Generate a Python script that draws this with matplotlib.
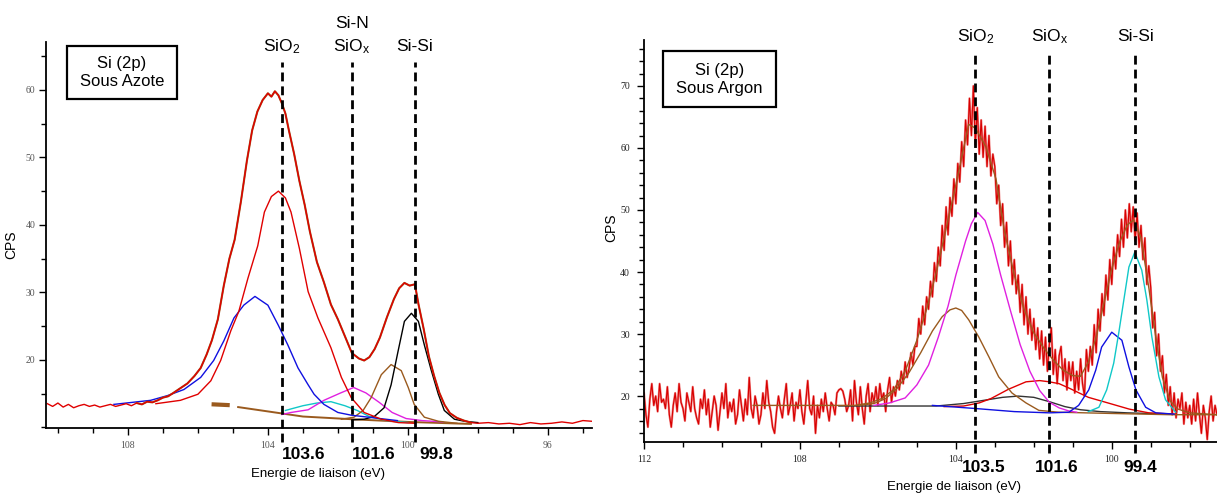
"""Si 2p XPS spectra, fitted components: under nitrogen (left) and under argon (right)."""
import numpy as np
import matplotlib
matplotlib.use("Agg")
import matplotlib.pyplot as plt
from matplotlib.patches import Rectangle
from matplotlib.ticker import MultipleLocator, FixedLocator

plt.rcParams["font.family"] = ["Liberation Sans", "DejaVu Sans"]
plt.rcParams["mathtext.default"] = "regular"

# ---------------- left panel : sous azote (eV, CPS) ----------------
N2_ENV_X = [110.3, 110.15, 110.0, 109.85, 109.7, 109.55, 109.4, 109.25, 109.1, 108.95,
            108.8, 108.65, 108.5, 108.35, 108.2, 108.05, 107.9, 107.75, 107.6, 107.45,
            107.3, 107.15, 107.0, 106.85, 106.7, 106.5, 106.3, 106.1, 105.92, 105.75,
            105.6, 105.43, 105.26, 105.1, 104.95, 104.77, 104.6, 104.45, 104.3, 104.15,
            104.0, 103.9, 103.8, 103.7, 103.6, 103.5, 103.4, 103.25, 103.1, 102.95,
            102.8, 102.6, 102.4, 102.2, 102.0, 101.8, 101.6, 101.4, 101.25, 101.1,
            100.95, 100.8, 100.6, 100.4, 100.25, 100.1, 99.95, 99.8, 99.7, 99.55,
            99.4, 99.25, 99.1, 98.95, 98.8, 98.6, 98.4, 98.2, 98.0, 97.7,
            97.4, 97.1, 96.8, 96.5, 96.2, 95.9, 95.6, 95.3, 95.0, 94.75]
N2_ENV_Y = [13.5, 13.1, 13.6, 13.0, 13.4, 12.9, 13.2, 13.4, 13.1, 13.3,
            13.0, 13.2, 13.4, 13.1, 13.3, 13.5, 13.2, 13.6, 13.4, 13.8,
            13.7, 14.0, 14.4, 14.6, 15.1, 15.8, 16.5, 17.6, 18.8, 20.8,
            22.9, 26.0, 31.0, 35.0, 37.8, 43.5, 49.5, 54.0, 56.8, 58.5,
            59.5, 59.0, 59.8, 59.2, 58.0, 56.5, 54.0, 50.5, 46.5, 43.0,
            39.0, 34.5, 31.5, 28.2, 26.0, 23.5, 21.0, 20.2, 19.9, 20.4,
            21.6, 23.3, 26.3, 29.0, 30.6, 31.4, 31.0, 31.2, 28.3, 24.6,
            20.5, 17.6, 15.1, 13.3, 12.1, 11.4, 11.0, 10.7, 10.6, 10.7,
            10.5, 10.6, 10.4, 10.7, 10.5, 10.6, 10.8, 10.6, 11.0, 10.9]

N2_RED_X = [107.2, 106.5, 106.0, 105.63, 105.35, 105.06, 104.83, 104.57, 104.29, 104.1,
            103.9, 103.7, 103.5, 103.34, 103.1, 102.85, 102.57, 102.2, 101.9, 101.62,
            101.25, 100.76, 100.27, 99.8]
N2_RED_Y = [13.5, 14.0, 14.9, 16.9, 19.9, 24.3, 27.2, 32.1, 36.9, 41.9,
            44.2, 45.0, 44.0, 41.9, 36.5, 30.1, 26.2, 21.8, 17.4, 14.4,
            12.2, 11.2, 10.7, 10.6]

N2_BLUE_X = [108.4, 107.35, 106.87, 106.4, 105.92, 105.55, 105.26, 104.97, 104.69, 104.37,
             104.0, 103.7, 103.43, 103.14, 102.85, 102.68, 102.4, 102.0, 101.62, 101.13, 100.3]
N2_BLUE_Y = [13.4, 14.0, 14.7, 15.6, 17.4, 19.9, 22.8, 26.2, 28.1, 29.4,
             28.1, 25.1, 22.2, 18.8, 16.3, 14.9, 13.4, 12.2, 11.8, 11.5, 11.0]

N2_CYAN_X = [103.5, 103.0, 102.6, 102.2, 101.8, 101.45, 101.1, 100.6, 100.0]
N2_CYAN_Y = [12.5, 13.2, 13.6, 13.8, 13.2, 12.5, 11.6, 11.0, 10.7]

N2_MAG_X = [103.6, 103.34, 102.85, 102.4, 101.92, 101.55, 101.2, 100.82, 100.45, 100.05, 99.6, 99.0]
N2_MAG_Y = [11.9, 12.2, 12.6, 14.0, 15.1, 15.9, 15.1, 13.7, 12.2, 11.3, 11.0, 10.8]

N2_BROWN_X = [101.9, 101.54, 101.28, 101.05, 100.76, 100.48, 100.19, 99.99, 99.82, 99.53, 99.13, 98.6]
N2_BROWN_Y = [11.2, 11.5, 12.5, 14.4, 17.8, 19.3, 18.4, 15.9, 13.4, 11.5, 10.9, 10.6]

N2_BLACK_X = [101.6, 101.25, 100.96, 100.68, 100.48, 100.28, 100.1, 99.9, 99.7, 99.53,
              99.33, 99.13, 98.96, 98.67, 98.38, 98.0]
N2_BLACK_Y = [11.1, 11.2, 11.6, 12.9, 16.3, 21.3, 25.7, 26.9, 25.7, 22.2,
              18.4, 14.9, 12.5, 11.2, 10.9, 10.7]

N2_BG_X = [104.85, 103.0, 101.6, 100.0, 98.2]
N2_BG_Y = [13.0, 11.6, 11.2, 10.8, 10.5]
N2_BG_START_X = [105.55, 105.15]
N2_BG_START_Y = [13.4, 13.3]

N2_PEAKS = [103.6, 101.6, 99.8]
N2_NAMES = ["SiO$_2$", "Si-N\nSiO$_x$", "Si-Si"]
N2_VALUES = ["103.6", "101.6", "99.8"]

# ---------------- right panel : sous argon (eV, CPS) ----------------
AR_RAW_START = 112.0
AR_RAW_STEP = 0.05
AR_RAW_Y = [
    20.5, 17.0, 15.0, 19.5, 22.0, 18.5, 20.0, 17.5, 22.0, 19.0, 19.5, 18.0, 21.5, 17.0, 15.0, 18.5, 20.5, 17.5, 22.0, 19.0,
    18.0, 16.0, 20.5, 19.0, 17.5, 21.5, 18.0, 16.5, 15.5, 19.5, 18.0, 21.0, 17.0, 19.5, 15.0, 17.5, 20.0, 18.5, 14.5, 17.5,
    20.5, 18.0, 22.0, 16.5, 19.0, 17.5, 19.5, 15.5, 17.0, 21.0, 18.5, 16.0, 19.5, 17.0, 23.0, 18.0, 16.5, 20.0, 18.5, 15.5,
    17.0, 20.5, 18.0, 22.5, 19.0, 17.5, 15.0, 14.0, 17.5, 20.0, 18.0, 16.5, 19.5, 22.0, 17.0, 18.5, 20.5, 16.0, 19.0, 18.0,
    21.0, 17.5, 15.5, 19.0, 22.5, 18.0, 17.0, 20.0, 14.0, 18.5, 16.5, 19.5, 17.5, 20.5, 18.0, 16.0, 19.0, 18.5, 17.0, 20.5,
    21.0, 21.2, 20.8, 19.5, 17.5, 18.5, 21.0, 16.0, 22.5, 19.0, 17.0, 21.5, 18.0, 15.5, 20.0, 22.0, 17.5, 20.5, 19.0, 21.5,
    18.5, 22.0, 19.5, 20.5, 17.5, 21.0, 23.0, 19.0, 21.5, 20.0, 22.5, 21.0, 24.0, 22.0, 25.5, 23.0, 24.5, 27.0, 25.0, 28.0,
    28.0, 32.5, 30.0, 34.5, 31.5, 36.0, 34.0, 38.5, 36.0, 41.5, 38.5, 44.0, 41.0, 47.5, 43.5, 50.5, 46.0, 52.0, 49.0, 55.0,
    51.0, 57.5, 54.5, 61.0, 57.0, 64.5, 60.5, 68.0, 62.0, 70.0, 60.5, 66.5, 59.0, 64.5, 58.5, 63.5, 57.0, 62.0, 55.5, 59.0,
    57.0, 51.0, 54.0, 47.5, 51.0, 44.0, 48.0, 41.0, 45.0, 38.0, 42.0, 36.5, 39.5, 33.5, 38.0, 31.5, 36.0, 30.0, 34.0, 29.0,
    32.5, 27.5, 31.0, 26.0, 30.5, 25.0, 29.5, 24.0, 28.5, 31.0, 23.5, 27.5, 22.0, 26.5, 28.0, 22.5, 26.0, 21.0, 25.5, 22.5,
    25.5, 20.5, 24.0, 21.0, 26.0, 22.0, 20.0, 27.5, 24.0, 28.0, 25.0, 31.5, 27.0, 34.0, 30.5, 36.5, 33.0, 39.5, 35.5, 42.0,
    38.0, 44.0, 40.5, 46.0, 42.5, 48.5, 44.0, 50.0, 45.5, 51.0, 46.5, 50.5, 45.0, 49.5, 44.0, 47.5, 42.0, 45.5, 38.0, 41.0,
    37.5, 31.0, 33.5, 26.5, 30.0, 24.0, 26.5, 20.5, 23.5, 18.5, 21.5, 17.0, 20.5, 16.5, 19.5, 18.0, 20.5, 15.5, 19.0, 16.5,
    18.5, 15.5, 19.5, 16.0, 20.5, 17.0, 14.0, 18.5, 16.5, 13.0, 17.5, 20.0, 16.0, 18.5, 17.0,
]

AR_ENV_X = [109.2, 106.6, 106.2, 105.9, 105.6, 105.3, 105.0, 104.75, 104.5, 104.25,
            104.0, 103.8, 103.67, 103.5, 103.23, 102.97, 102.75, 102.5, 102.25, 102.0,
            101.75, 101.5, 101.25, 101.0, 100.8, 100.6, 100.4, 100.2, 100.0, 99.8,
            99.6, 99.44, 99.25, 99.05, 98.87, 98.7, 98.5, 98.3, 98.0, 97.3]
AR_ENV_Y = [18.5, 18.5, 18.9, 19.6, 21.0, 24.0, 29.0, 34.0, 40.0, 47.0,
            54.0, 60.0, 63.8, 63.2, 60.2, 55.0, 46.5, 39.5, 34.0, 30.2,
            27.8, 25.8, 24.2, 23.3, 23.2, 25.5, 29.5, 35.0, 40.5, 44.8,
            47.6, 48.4, 45.5, 37.5, 29.5, 23.0, 19.2, 17.9, 17.3, 17.0]

AR_MAG_X = [106.1, 105.7, 105.3, 105.0, 104.7, 104.45, 104.2, 104.0, 103.75, 103.6,
            103.44, 103.25, 103.05, 102.85, 102.6, 102.35, 102.1, 101.85, 101.6, 101.35, 101.1, 100.9]
AR_MAG_Y = [18.5, 18.9, 19.7, 21.8, 25.0, 29.5, 34.5, 39.5, 45.0, 47.8,
            49.6, 48.3, 44.5, 39.5, 33.8, 28.3, 24.0, 20.9, 19.0, 18.1, 17.6, 17.4]

AR_BROWN_X = [106.5, 106.1, 105.8, 105.5, 105.2, 104.9, 104.6, 104.35, 104.15, 104.0,
              103.85, 103.67, 103.41, 103.15, 102.9, 102.56, 102.2, 101.87, 101.36, 100.0, 98.5, 97.3]
AR_BROWN_Y = [18.5, 18.8, 19.6, 21.3, 23.8, 27.0, 30.5, 32.8, 33.9, 34.2,
              33.8, 32.3, 29.5, 26.3, 23.1, 20.5, 18.9, 17.7, 17.4, 17.2, 17.0, 17.0]

AR_RED_X = [104.3, 103.8, 103.4, 103.1, 102.65, 102.2, 101.85, 101.6, 101.35, 101.1,
            100.6, 100.1, 99.55, 99.05, 98.4]
AR_RED_Y = [18.3, 18.4, 18.9, 19.6, 21.1, 22.3, 22.5, 22.3, 22.0, 21.3,
            19.8, 18.9, 17.9, 17.3, 17.1]

AR_BLACK_X = [107.0, 105.5, 104.5, 103.8, 103.3, 102.8, 102.4, 102.0, 101.6, 101.2,
              100.8, 100.3, 99.6, 98.5]
AR_BLACK_Y = [18.4, 18.4, 18.4, 18.8, 19.3, 19.8, 20.0, 19.8, 19.1, 18.3,
              17.8, 17.5, 17.3, 17.1]

AR_BLUE_X = [104.6, 103.5, 102.5, 101.6, 101.1, 100.85, 100.59, 100.41, 100.26, 100.0,
             99.74, 99.56, 99.38, 99.13, 98.87, 98.4]
AR_BLUE_Y = [18.5, 18.0, 17.5, 17.3, 17.4, 18.5, 21.0, 24.2, 27.9, 30.3,
             29.0, 24.7, 21.0, 18.2, 17.3, 17.1]

AR_CYAN_X = [100.6, 100.33, 100.13, 99.95, 99.82, 99.69, 99.56, 99.41, 99.23, 99.1,
             98.97, 98.79, 98.62, 98.36]
AR_CYAN_Y = [17.5, 18.2, 21.0, 25.3, 30.2, 35.5, 40.8, 43.2, 40.3, 35.5,
             29.5, 23.1, 19.4, 17.4]

AR_PEAKS = [103.5, 101.6, 99.4]
AR_NAMES = ["SiO$_2$", "SiO$_x$", "Si-Si"]
AR_VALUES = ["103.5", "101.6", "99.4"]

RED = "#e00000"
BROWN = "#9a5a1e"
BLUE = "#1010e0"
CYAN = "#10c8c8"
MAGENTA = "#e020e0"


def style_axes(ax, xlim, ylim, xmajor, ymajor, yminor, label_color):
    ax.set_xlim(*xlim)
    ax.set_ylim(*ylim)
    for s in ("top", "right"):
        ax.spines[s].set_visible(False)
    for s in ("left", "bottom"):
        ax.spines[s].set_linewidth(1.3)
    ax.xaxis.set_major_locator(FixedLocator(xmajor))
    ax.xaxis.set_minor_locator(MultipleLocator(1))
    ax.yaxis.set_major_locator(FixedLocator(ymajor))
    ax.yaxis.set_minor_locator(MultipleLocator(yminor))
    ax.tick_params(which="both", direction="out", width=1.0, colors="black",
                   labelcolor=label_color)
    ax.tick_params(which="major", length=5)
    ax.tick_params(which="minor", length=3.5)
    ax.tick_params(axis="x", pad=4.5)
    ax.tick_params(axis="y", pad=2.5)
    for lab in ax.get_xticklabels() + ax.get_yticklabels():
        lab.set_family(["Liberation Serif", "DejaVu Serif"])
        lab.set_fontsize(7)


def mark_peaks(ax, peaks, names, values, line_span, name_y, value_y,
               value_ha, value_dx):
    for x, name, val, dx in zip(peaks, names, values, value_dx):
        ax.axvline(x, ymin=line_span[0], ymax=line_span[1], color="black",
                   lw=2.0, dashes=(3.2, 1.8), clip_on=False)
        lines = name.split("\n")
        for k, line in enumerate(reversed(lines)):
            ax.annotate(line, (x, name_y), xycoords=("data", "axes fraction"),
                        xytext=(0, 16.5 * k), textcoords="offset points",
                        ha="center", va="baseline", fontsize=12.5,
                        annotation_clip=False)
        ax.annotate(val, (x, value_y), xycoords=("data", "axes fraction"),
                    xytext=(dx, 0), textcoords="offset points",
                    ha=value_ha, va="baseline", fontsize=12.5,
                    fontweight="bold", annotation_clip=False)


def label_box(ax, rect, text):
    ax.add_patch(Rectangle(rect[:2], rect[2], rect[3], transform=ax.transAxes,
                           fill=False, edgecolor="black", lw=1.6, clip_on=False))
    ax.text(rect[0] + rect[2] / 2, rect[1] + rect[3] / 2, text,
            transform=ax.transAxes, ha="center", va="center",
            fontsize=12, linespacing=1.25)


def main():
    fig = plt.figure(figsize=(12.17, 4.98), dpi=100)

    # left: sous azote
    ax1 = fig.add_axes([46 / 1217, 70 / 498, 546 / 1217, 386 / 498])
    ax1.plot(N2_BG_START_X, N2_BG_START_Y, color=BROWN, lw=3.0)
    ax1.plot(N2_BG_X, N2_BG_Y, color=BROWN, lw=1.4)
    ax1.plot(N2_CYAN_X, N2_CYAN_Y, color=CYAN, lw=1.0)
    ax1.plot(N2_MAG_X, N2_MAG_Y, color=MAGENTA, lw=1.0)
    ax1.plot(N2_BROWN_X, N2_BROWN_Y, color=BROWN, lw=1.0)
    ax1.plot(N2_BLACK_X, N2_BLACK_Y, color="black", lw=1.0)
    ax1.plot(N2_BLUE_X, N2_BLUE_Y, color=BLUE, lw=1.0)
    ax1.plot(N2_RED_X, N2_RED_Y, color=RED, lw=1.0)
    env_x = np.array(N2_ENV_X)
    env_y = np.array(N2_ENV_Y)
    fit = (env_x <= 107.8) & (env_x >= 98.2)
    ax1.plot(env_x[fit], env_y[fit], color=BROWN, lw=1.5)
    ax1.plot(env_x, env_y, color=RED, lw=1.0)
    style_axes(ax1, (110.34, 94.74), (9.9, 67.1), [108, 104, 100, 96],
               [20, 30, 40, 50, 60], 5, "#555555")
    mark_peaks(ax1, N2_PEAKS, N2_NAMES, N2_VALUES, (-0.036, 0.948), 0.977,
               -0.080, "left", [0, 0, 3])
    label_box(ax1, (0.0385, 0.852, 0.2015, 0.137), "Si (2p)\nSous Azote")
    ax1.set_xlabel("Energie de liaison (eV)", fontsize=9.5)
    ax1.xaxis.set_label_coords(0.498, -0.104)
    ax1.set_ylabel("CPS", fontsize=10)
    ax1.yaxis.set_label_coords(-0.051, 0.474)

    # right: sous argon
    ax2 = fig.add_axes([644 / 1217, 56 / 498, 573 / 1217, 402 / 498])
    raw_x = AR_RAW_START - AR_RAW_STEP * np.arange(len(AR_RAW_Y))
    ax2.plot(raw_x, AR_RAW_Y, color="#f08080", lw=1.6)
    ax2.plot(raw_x, AR_RAW_Y, color="#d80000", lw=0.8)
    ax2.plot(AR_BLACK_X, AR_BLACK_Y, color="#333333", lw=1.0)
    ax2.plot(AR_RED_X, AR_RED_Y, color=RED, lw=1.0)
    ax2.plot(AR_BROWN_X, AR_BROWN_Y, color=BROWN, lw=1.0)
    ax2.plot(AR_MAG_X, AR_MAG_Y, color=MAGENTA, lw=1.0)
    ax2.plot(AR_BLUE_X, AR_BLUE_Y, color=BLUE, lw=1.0)
    ax2.plot(AR_CYAN_X, AR_CYAN_Y, color=CYAN, lw=1.0)
    ax2.plot(AR_ENV_X, AR_ENV_Y, color=BROWN, lw=1.0)
    style_axes(ax2, (112.0, 97.3), (12.6, 77.4), [112, 108, 104, 100],
               [20, 30, 40, 50, 60, 70], 2, "#222222")
    ax2.tick_params(axis="y", pad=5)
    mark_peaks(ax2, AR_PEAKS, AR_NAMES, AR_VALUES, (-0.027, 0.968), 0.9975,
               -0.0746, "center", [6, 5, 4])
    label_box(ax2, (0.0332, 0.833, 0.197, 0.139), "Si (2p)\nSous Argon")
    ax2.set_xlabel("Energie de liaison (eV)", fontsize=9.5)
    ax2.xaxis.set_label_coords(0.541, -0.097)
    ax2.set_ylabel("CPS", fontsize=10)
    ax2.yaxis.set_label_coords(-0.045, 0.532)

    fig.savefig("out.png", dpi=100)
    plt.close(fig)


if __name__ == "__main__":
    main()
